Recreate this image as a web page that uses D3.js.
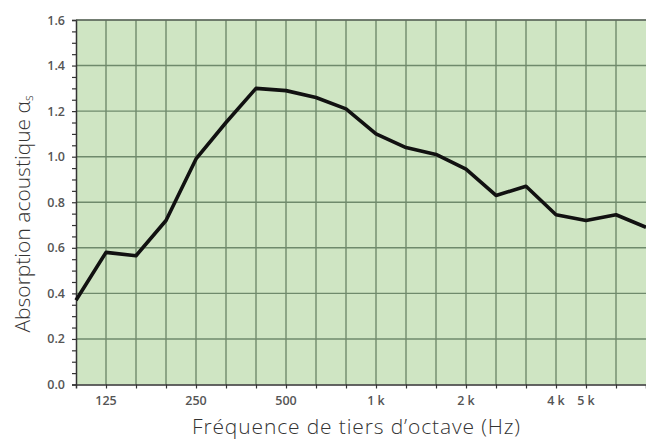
<!DOCTYPE html>
<html><head><meta charset="utf-8">
<script src="https://cdn.jsdelivr.net/npm/d3@7/dist/d3.min.js"></script>
<style>body{margin:0;background:#fff}svg{display:block}</style>
</head><body><svg id="c" width="646" height="443"></svg>
<script>
const bands = [100,125,160,200,250,315,400,500,630,800,1000,1250,1600,2000,2500,3150,4000,5000,6300,8000];
const absorption = [0.37,0.58,0.565,0.72,0.99,1.15,1.30,1.29,1.26,1.21,1.10,1.04,1.01,0.945,0.83,0.87,0.745,0.72,0.745,0.69];
const xTickLabels = {125:"125",250:"250",500:"500",1000:"1 k",2000:"2 k",4000:"4 k",5000:"5 k"};
const yTicks = [0,0.2,0.4,0.6,0.8,1.0,1.2,1.4,1.6];

const svg = d3.select("#c");
const L=76,R=646,T=20,B=384.5;
const x = d3.scalePoint().domain(bands).range([L,R]);
const y = d3.scaleLinear().domain([0,1.6]).range([B,T]);

svg.append("rect").attr("x",L).attr("y",T).attr("width",R-L).attr("height",B-T).attr("fill","#cfe5c3");

const grid = svg.append("g").attr("stroke","#6f8a6c").attr("stroke-width",1.4);
grid.selectAll("line.v").data(bands.slice(1,-1)).join("line")
  .attr("x1",d=>x(d)).attr("x2",d=>x(d)).attr("y1",T).attr("y2",B);
grid.selectAll("line.h").data(yTicks.slice(1)).join("line")
  .attr("x1",L).attr("x2",R).attr("y1",d=>y(d)).attr("y2",d=>y(d));

// y axis
const minor = d3.range(0,1.6001,0.05);
const yAxis = d3.axisLeft(y).tickValues(minor).tickSize(4).tickFormat("");
const gy = svg.append("g").attr("transform",`translate(${L},0)`).call(yAxis);
gy.select(".domain").attr("stroke","#333").attr("stroke-width",1.5);
gy.selectAll(".tick line").attr("stroke","#333").attr("stroke-width",1.2);
svg.append("g").selectAll("text").data(yTicks).join("text")
  .attr("x",65).attr("y",d=>y(d)+4.5).attr("text-anchor","end")
  .attr("font-family","'Open Sans', sans-serif").attr("font-size",12.5).attr("font-weight",600).attr("fill","#555")
  .text(d=>d.toFixed(1));

// x axis
const xAxis = d3.axisBottom(x).tickValues(bands.slice(1,-1)).tickSize(4).tickFormat("");
const gx = svg.append("g").attr("transform",`translate(0,${B})`).call(xAxis);
gx.select(".domain").attr("stroke","#333").attr("stroke-width",1.5);
gx.selectAll(".tick line").attr("stroke","#333").attr("stroke-width",1.2);
svg.append("g").selectAll("text").data(bands.filter(b=>xTickLabels[b])).join("text")
  .attr("x",d=>x(d)).attr("y",405).attr("text-anchor","middle")
  .attr("font-family","'Open Sans', sans-serif").attr("font-size",12.5).attr("font-weight",600).attr("fill","#555")
  .text(d=>xTickLabels[d]);

// top border
svg.append("line").attr("x1",L).attr("x2",R).attr("y1",T).attr("y2",T).attr("stroke","#555").attr("stroke-width",1.2);

// line
svg.append("path").datum(bands.map((b,i)=>[b,absorption[i]]))
  .attr("d",d3.line().x(d=>x(d[0])).y(d=>y(d[1])))
  .attr("fill","none").attr("stroke","#111").attr("stroke-width",3.6).attr("stroke-linejoin","round");

// axis titles
svg.append("text").attr("x",356).attr("y",434).attr("text-anchor","middle")
  .attr("font-family","'Open Sans', sans-serif").attr("font-size",21).attr("font-weight",300).attr("fill","#333")
  .attr("textLength",328).attr("lengthAdjust","spacing")
  .text("Fréquence de tiers d’octave (Hz)");
const yt = svg.append("text").attr("transform",`translate(30,214) rotate(-90)`).attr("text-anchor","middle")
  .attr("font-family","'Open Sans', sans-serif").attr("font-size",21).attr("font-weight",300).attr("fill","#333");
yt.append("tspan").text("Absorption acoustique α");
yt.append("tspan").attr("font-size",12).attr("dy",3).text("s");
</script></body></html>
